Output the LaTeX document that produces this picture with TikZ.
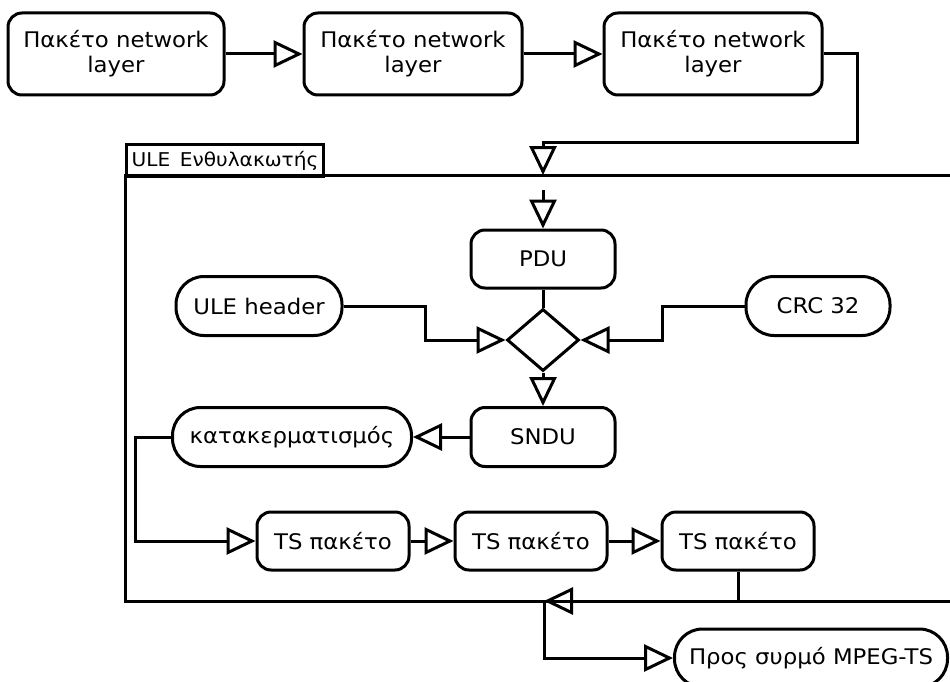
\documentclass[tikz,border=0pt]{standalone}
\usepackage{fontspec}
\setmainfont{DejaVu Sans}[FakeStretch=1.06]
\usetikzlibrary{arrows.meta,shapes.geometric}

\begin{document}
\begin{tikzpicture}[x=1pt,y=-1pt,
  line width=3pt, line join=miter,
  txt/.style={font=\fontsize{21.5}{25}\selectfont, align=center, inner sep=0pt},
  rbox/.style={txt, draw, rectangle, rounded corners=14pt},
  pill/.style={txt, draw, rectangle, rounded corners=28pt},
  joinbox/.style={draw, diamond, inner sep=0pt, minimum width=72pt, minimum height=62pt},
  flow/.style={-{Triangle[open,length=29pt,width=27pt]}},
  plain/.style={-}
]
\useasboundingbox (0,0) rectangle (950,682);

% network layer packets
\node[rbox, minimum width=216pt, minimum height=82pt] (n1) at (116,54) {Πακέτο network\\layer};
\node[rbox, minimum width=218pt, minimum height=82pt] (n2) at (413,54) {Πακέτο network\\layer};
\node[rbox, minimum width=218pt, minimum height=82pt] (n3) at (713,54) {Πακέτο network\\layer};
\draw[flow] (n1.east) -- (n2.west);
\draw[flow] (n2.east) -- (n3.west);

% encapsulator frame with its tab
\draw (950,175) -- (125,175) -- (125,601) -- (950,601);
\node[draw, anchor=north west, minimum width=197pt, minimum height=32pt, inner sep=0pt,
      font=\fontsize{19}{21}\selectfont] (tab) at (125,143) {ULE\, Ενθυλακωτής};

% entry into the encapsulator
\coordinate (inA) at (543,175);
\coordinate (bendA) at (857,143);
\draw[flow] (n3.east) -| (bendA) -- (bendA -| inA) -- (inA);

% PDU, header and CRC merged into the SNDU
\node[rbox, minimum width=144pt, minimum height=58pt] (pdu) at (543,259) {PDU};
\coordinate (inB) at (543,190);
\draw[flow] (inB) -- (pdu.north);

\node[joinbox] (mix) at (543,340) {};
\node[pill, minimum width=166pt, minimum height=59pt] (ule) at (259,306) {ULE header};
\node[pill, minimum width=144pt, minimum height=59pt] (crc) at (818,306) {CRC 32};
\draw[plain] (pdu.south) -- (mix.north);
\draw[flow] (ule.east) -- ++(82,0) |- (mix.west);
\draw[flow] (crc.west) -- ++(-82,0) |- (mix.east);

\node[rbox, minimum width=144pt, minimum height=59pt] (sndu) at (543,437) {SNDU};
\draw[flow] (mix.south) -- (sndu.north);

% fragmentation into transport stream packets
\node[pill, minimum width=239pt, minimum height=59pt] (frag) at (292,437) {κατακερματισμός};
\draw[flow] (sndu.west) -- (frag.east);

\node[rbox, minimum width=152pt, minimum height=58pt] (ts1) at (333,541) {TS πακέτο};
\node[rbox, minimum width=152pt, minimum height=58pt] (ts2) at (531,541) {TS πακέτο};
\node[rbox, minimum width=152pt, minimum height=58pt] (ts3) at (738,541) {TS πακέτο};
\draw[flow] (frag.west) -- ++(-36,0) |- (ts1.west);
\draw[flow] (ts1.east) -- (ts2.west);
\draw[flow] (ts2.east) -- (ts3.west);

% output towards the MPEG-TS stream
\coordinate (outA) at (544,601);
\draw[flow] (ts3.south) |- (outA);
\node[pill, minimum width=273pt, minimum height=58pt] (mpeg) at (811,658) {Προς συρμό MPEG-TS};
\draw[flow] (outA) |- (mpeg.west);
\end{tikzpicture}
\end{document}
